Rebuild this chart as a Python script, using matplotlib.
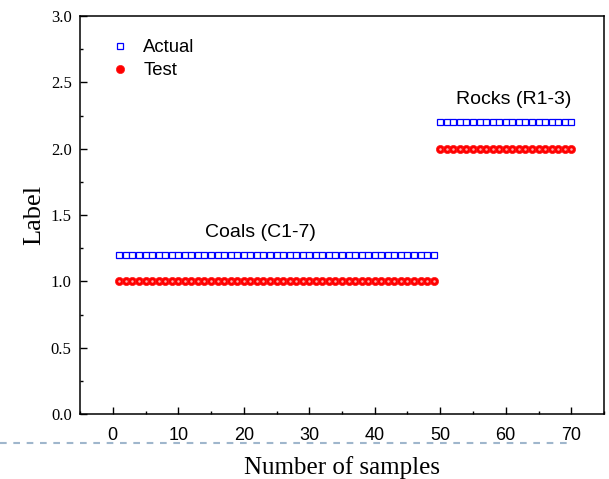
import numpy as np
import matplotlib
matplotlib.use("Agg")
import matplotlib.pyplot as plt
from matplotlib.lines import Line2D

# Data
coal_samples = list(range(1, 50))
rock_samples = list(range(50, 71))
coal_actual = [1.2] * len(coal_samples)
coal_test = [1.0] * len(coal_samples)
rock_actual = [2.2] * len(rock_samples)
rock_test = [2.0] * len(rock_samples)
x_ticks = [0, 10, 20, 30, 40, 50, 60, 70]
y_ticks = [0.0, 0.5, 1.0, 1.5, 2.0, 2.5, 3.0]

samples = coal_samples + rock_samples
actual = coal_actual + rock_actual
test = coal_test + rock_test

fig = plt.figure(figsize=(6.09, 4.79), dpi=100)
ax = fig.add_axes([80/609, 1 - 414/479, 524/609, (414-16)/479])

ax.plot(samples, actual, ls='none', marker='s', ms=5.0, mfc='white', mec='#0000ff', mew=0.9, label='Actual')
ax.plot(samples, test, ls='none', marker='o', ms=5.9, mfc='#ff0000', mec='#ff1a1a', mew=0.5, label='Test')
ax.plot(samples, test, ls='none', marker='o', ms=1.8, mfc='#ffb0b0', mec='none')

ax.set_xlim(-5, 75)
ax.set_ylim(0, 3)
ax.set_xticks(x_ticks)
ax.set_xticks(np.arange(-5, 76, 5), minor=True)
ax.set_yticks(y_ticks)
ax.set_yticks(np.arange(0, 3.01, 0.25), minor=True)
ax.set_yticklabels([f"{v:.1f}" for v in y_ticks], fontfamily='Liberation Serif', fontsize=12)
ax.set_xticklabels([str(v) for v in x_ticks], fontfamily='Liberation Sans', fontsize=13)

ax.tick_params(which='both', direction='in', top=False, right=False, width=1.0)
ax.tick_params(which='major', length=5)
ax.tick_params(which='minor', length=2.5)
ax.tick_params(axis='y', pad=6)
ax.tick_params(axis='x', pad=9)
for s in ax.spines.values():
    s.set_linewidth(1.1)

ax.set_xlabel('Number of samples', fontfamily='Liberation Serif', fontsize=18, labelpad=9)
ax.set_ylabel('Label', fontfamily='Liberation Serif', fontsize=19, labelpad=4)

ax.text(22.6, 1.37, 'Coals (C1-7)', ha='center', va='center', fontfamily='Liberation Sans', fontsize=14)
ax.text(61.2, 2.37, 'Rocks (R1-3)', ha='center', va='center', fontfamily='Liberation Sans', fontsize=14)

leg = ax.legend(loc='upper left', bbox_to_anchor=(0.045, 0.96), frameon=False,
                prop={'family': 'Liberation Sans', 'size': 13.3}, handlelength=1.0,
                handletextpad=0.75, labelspacing=0.32, borderaxespad=0)

fig.add_artist(Line2D([0, 567/609], [1 - 443/479, 1 - 443/479], transform=fig.transFigure,
                      color='#9fb6cc', lw=1.5, ls=(0, (3.2, 3.2))))

fig.savefig('out.png', dpi=100)
